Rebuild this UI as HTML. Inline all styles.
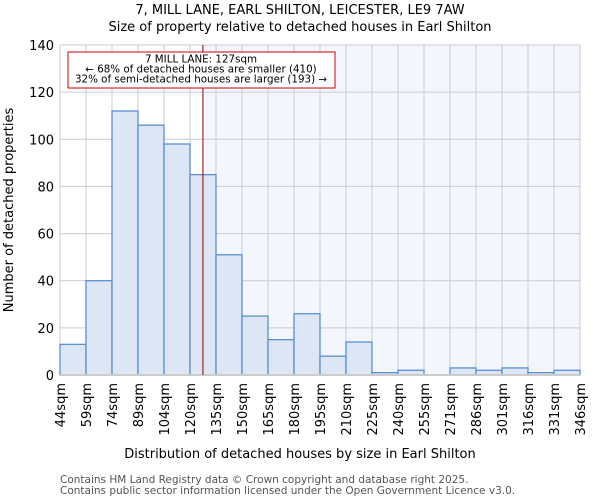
<!DOCTYPE html>
<html><head><meta charset="utf-8"><style>
body{margin:0;background:#fff;font-family:"DejaVu Sans","Liberation Sans",sans-serif}
</style></head><body>
<svg width="600" height="500" xmlns="http://www.w3.org/2000/svg" font-family="DejaVu Sans, Liberation Sans, sans-serif">
<text x="300" y="14" text-anchor="middle" font-size="13">7, MILL LANE, EARL SHILTON, LEICESTER, LE9 7AW</text>
<text x="300" y="31" text-anchor="middle" font-size="13">Size of property relative to detached houses in Earl Shilton</text>
<g id="plot"></g>
<text x="300" y="458" text-anchor="middle" font-size="13">Distribution of detached houses by size in Earl Shilton</text>
<text transform="translate(13,210) rotate(-90)" text-anchor="middle" font-size="13">Number of detached properties</text>
<text x="60" y="483" font-size="10.5" fill="#555">Contains HM Land Registry data © Crown copyright and database right 2025.</text>
<text x="60" y="494" font-size="10.5" fill="#555">Contains public sector information licensed under the Open Government Licence v3.0.</text>
</svg>
<script>
const categories=["44sqm","59sqm","74sqm","89sqm","104sqm","120sqm","135sqm","150sqm","165sqm","180sqm","195sqm","210sqm","225sqm","240sqm","255sqm","271sqm","286sqm","301sqm","316sqm","331sqm","346sqm"];
const counts=[13,40,112,106,98,85,51,25,15,26,8,14,1,2,0,3,2,3,1,2];
const yTicks=[0,20,40,60,80,100,120,140];
const markerValue=127;
const binStart=44, binWidth=15.1;
const X0=60,X1=580,Y0=375,Y1=45,YMAX=140;
const NS="http://www.w3.org/2000/svg";
const g=document.getElementById('plot');
const nb=counts.length;
const xi=i=>X0+(X1-X0)*i/nb;
const xv=v=>X0+(X1-X0)*(v-binStart)/(binWidth*nb);
const y=v=>Y0-(Y0-Y1)*v/YMAX;
function mk(t,a){const e=document.createElementNS(NS,t);for(const k in a)e.setAttribute(k,a[k]);g.appendChild(e);return e;}
const mx=xv(markerValue);
let e=mk('rect',{x:mx,y:Y1,width:X1-mx,height:Y0-Y1,fill:'#f3f6fd'});


for(const t of yTicks){e=mk('line',{x1:X0,x2:X1,y1:y(t),y2:y(t),stroke:'#ccc'});


e=mk('text',{x:X0-6,y:y(t)+5,'text-anchor':'end','font-size':13});e.textContent=t;

}
categories.forEach((c,i)=>{const x=xi(i);
e=mk('line',{x1:x,x2:x,y1:Y1,y2:Y0,stroke:'#ccc'});


e=mk('text',{transform:`translate(${x+5},${Y0+8}) rotate(-90)`,'text-anchor':'end','font-size':13});e.textContent=c;

});
counts.forEach((v,i)=>{e=mk('rect',{x:xi(i),y:y(v),width:xi(i+1)-xi(i),height:Y0-y(v),fill:'#dce6f4',stroke:'#5a8fd6','stroke-width':1.3});

});
e=mk('line',{x1:X0,x2:X1,y1:Y0,y2:Y0,stroke:'#ccc','stroke-width':2});


e=mk('line',{x1:mx,x2:mx,y1:Y1,y2:Y0,stroke:'#8a0000','stroke-width':1});


e=mk('rect',{x:68,y:52,width:267,height:36,fill:'#fff',stroke:'#c00','stroke-width':1});


["7 MILL LANE: 127sqm","← 68% of detached houses are smaller (410)","32% of semi-detached houses are larger (193) →"].forEach((s,i)=>{
e=mk('text',{x:201,y:62.5+i*10,'text-anchor':'middle','font-size':10.3});e.textContent=s;

});
</script>
</body></html>
